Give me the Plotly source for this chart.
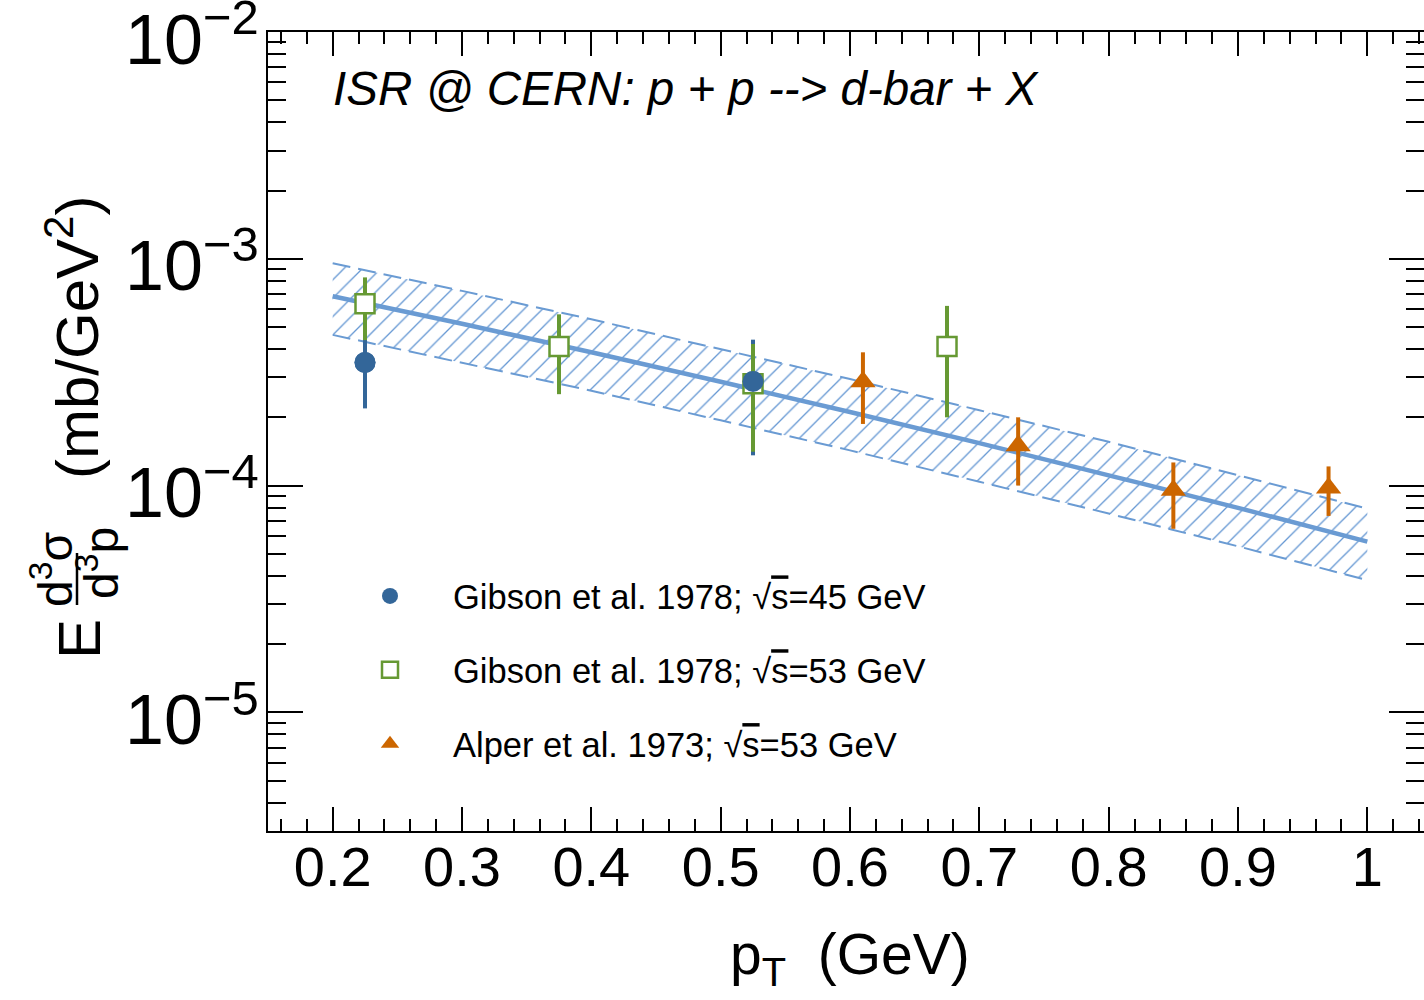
import plotly.graph_objects as go

# ---------------- data ----------------
pt_gib45 = [0.225, 0.525]
y_gib45 = [3.49e-4, 2.88e-4]
e_gib45 = [1.30e-4, 1.52e-4]

pt_gib53 = [0.225, 0.375, 0.525, 0.675]
y_gib53 = [6.33e-4, 4.11e-4, 2.81e-4, 4.10e-4]
e_gib53 = [1.95e-4, 1.58e-4, 1.40e-4, 2.10e-4]

pt_alper = [0.61, 0.73, 0.85, 0.97]
y_alper = [2.87e-4, 1.50e-4, 9.55e-5, 9.75e-5]
e_alper = [1.00e-4, 0.50e-4, 3.1e-5, 2.4e-5]

pt_fit = [0.2, 0.3, 0.4, 0.5, 0.6, 0.7, 0.8, 0.9, 1.0]
y_fit = [6.84e-4, 5.17e-4, 3.87e-4, 2.87e-4, 2.11e-4, 1.54e-4, 1.11e-4, 7.98e-5, 5.66e-5]
y_fit_hi = [9.55e-4, 7.22e-4, 5.41e-4, 4.01e-4, 2.95e-4, 2.15e-4, 1.56e-4, 1.11e-4, 7.91e-5]
y_fit_lo = [4.62e-4, 3.49e-4, 2.62e-4, 1.94e-4, 1.43e-4, 1.04e-4, 7.53e-5, 5.40e-5, 3.83e-5]

SQRT_S = "√<span style='text-decoration:overline'>s</span>"
labels = [
    "Gibson et al. 1978; " + SQRT_S + "=45 GeV",
    "Gibson et al. 1978; " + SQRT_S + "=53 GeV",
    "Alper et al. 1973; " + SQRT_S + "=53 GeV",
]

C_BLUE = "#336699"
C_GREEN = "#669933"
C_ORANGE = "#cc6600"
C_BAND = "#6a9bd3"
FONT = "Liberation Sans, Arial, Helvetica, sans-serif"

fig = go.Figure()

# uncertainty band
fig.add_trace(go.Scatter(x=pt_fit, y=y_fit_lo, mode="lines",
                         line=dict(color=C_BAND, width=2, dash="18px,8px"),
                         showlegend=False, hoverinfo="skip"))
fig.add_trace(go.Scatter(x=pt_fit, y=y_fit_hi, mode="lines",
                         line=dict(color=C_BAND, width=2, dash="18px,8px"),
                         fill="tonexty", fillcolor="rgba(0,0,0,0)",
                         fillpattern=dict(shape="/", fgcolor="#6396d2", fgopacity=1,
                                          bgcolor="rgba(0,0,0,0)", size=13, solidity=0.1),
                         showlegend=False, hoverinfo="skip"))
# central curve
fig.add_trace(go.Scatter(x=pt_fit, y=y_fit, mode="lines", line_shape="spline",
                         line=dict(color=C_BAND, width=4.5),
                         showlegend=False, hoverinfo="skip"))

# Gibson 45 GeV
fig.add_trace(go.Scatter(x=pt_gib45, y=y_gib45, mode="markers", name=labels[0],
                         legendgroup="a",
                         marker=dict(symbol="circle", size=21, color=C_BLUE, line=dict(width=0)),
                         error_y=dict(type="data", array=e_gib45, color=C_BLUE, thickness=4, width=0)))
# Gibson 53 GeV
fig.add_trace(go.Scatter(x=pt_gib53, y=y_gib53, mode="markers", name=labels[1],
                         legendgroup="b",
                         marker=dict(symbol="square", size=19, color="white",
                                     line=dict(color=C_GREEN, width=2.5)),
                         error_y=dict(type="data", array=e_gib53, color=C_GREEN, thickness=4, width=0)))
# blue markers on top
fig.add_trace(go.Scatter(x=pt_gib45, y=y_gib45, mode="markers", showlegend=False,
                         marker=dict(symbol="circle", size=21, color=C_BLUE, line=dict(width=0)),
                         hoverinfo="skip"))
# Alper 53 GeV
fig.add_trace(go.Scatter(x=pt_alper, y=y_alper, mode="markers", name=labels[2],
                         legendgroup="c",
                         marker=dict(symbol="triangle-up", size=22, color=C_ORANGE, line=dict(width=0)),
                         error_y=dict(type="data", array=e_alper, color=C_ORANGE, thickness=4, width=0)))

W, H = 1424, 1000
L, R, T, B = 268, 0, 32, 169
pw, ph = W - L - R, H - T - B


def px(xp):
    return (xp - L) / pw


def py(yp):
    return (H - B - yp) / ph


axis_common = dict(showline=True, linewidth=2, linecolor="black", mirror="ticks",
                   ticks="inside", tickwidth=2, tickcolor="black", automargin=False,
                   showgrid=False, zeroline=False, ticklabeloverflow="allow",
                   tickfont=dict(family=FONT, size=56, color="black"))

fig.update_layout(
    width=W, height=H,
    margin=dict(l=L, r=R, t=T, b=B, pad=0, autoexpand=False),
    paper_bgcolor="white", plot_bgcolor="white",
    font=dict(family=FONT, color="black"),
    xaxis=dict(range=[0.15, 1.0438], tick0=0, dtick=0.1, ticklen=24,
               ticklabelstandoff=-14,
               minor=dict(tick0=0, dtick=0.02, ticklen=12, tickwidth=2, tickcolor="black",
                          ticks="inside", showgrid=False),
               **axis_common),
    yaxis=dict(type="log", range=[-5.5229, -2], dtick=1, ticklen=35,
               exponentformat="power", ticklabelstandoff=-4, ticklabelshift=7,
               minor=dict(dtick="D1", ticklen=18, tickwidth=2, tickcolor="black",
                          ticks="inside", showgrid=False),
               **axis_common),
    legend=dict(x=px(327), y=py(567), xanchor="left", yanchor="top",
                bgcolor="rgba(0,0,0,0)", font=dict(family=FONT, size=34.5, color="black"),
                tracegroupgap=26, itemwidth=116),
    showlegend=True,
)

# header text
fig.add_annotation(text="<i>ISR @ CERN: p + p --> d-bar + X</i>", xref="paper", yref="paper",
                   x=px(331), y=py(88), xanchor="left", yanchor="middle", showarrow=False,
                   font=dict(family=FONT, size=47.5, color="black"))

# x axis title
fig.add_annotation(text="p<sub>T</sub>  (GeV)", xref="paper", yref="paper",
                   x=px(850), y=py(958), xanchor="center", yanchor="middle", showarrow=False,
                   font=dict(family=FONT, size=57, color="black"))

# y axis title pieces
ytf = dict(family=FONT, size=60, color="black")
yff = dict(family=FONT, size=48, color="black")
fig.add_annotation(text="E", xref="paper", yref="paper", x=px(79), y=py(639),
                   xanchor="center", yanchor="middle", textangle=-90, showarrow=False, font=ytf)
fig.add_annotation(text="d<sup>3</sup>σ", xref="paper", yref="paper", x=px(52), y=py(570),
                   xanchor="center", yanchor="middle", textangle=-90, showarrow=False, font=yff)
fig.add_annotation(text="d<sup>3</sup>p", xref="paper", yref="paper", x=px(98), y=py(563),
                   xanchor="center", yanchor="middle", textangle=-90, showarrow=False, font=yff)
fig.add_annotation(text="(mb/GeV<sup>2</sup>)", xref="paper", yref="paper", x=px(73), y=py(338),
                   xanchor="center", yanchor="middle", textangle=-90, showarrow=False, font=ytf)
fig.add_shape(type="line", xref="paper", yref="paper", x0=px(77), x1=px(77),
              y0=py(553), y1=py(605), line=dict(color="black", width=2.5))

fig.write_html("out.html", config={"displayModeBar": False},
               post_script="document.body.style.margin='0px';")
